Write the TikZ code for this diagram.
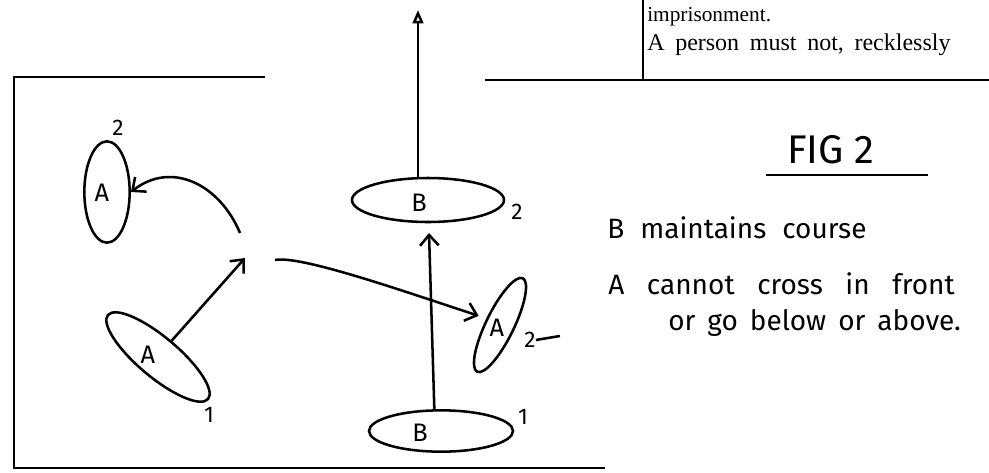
\documentclass[tikz,border=0pt]{standalone}
\usepackage{fontspec}
\setmainfont{Liberation Serif}
\newfontfamily\handfont{Fira Sans}
\usetikzlibrary{shapes.geometric,arrows.meta}

\begin{document}
\begin{tikzpicture}[x=0.75pt, y=-0.75pt,
	boat/.style={ellipse, draw=black, line width=1.9pt, inner sep=0pt},
	boatname/.style={font=\handfont\fontsize{19}{19}\selectfont, inner sep=0pt},
	num/.style={font=\handfont\fontsize{17}{17}\selectfont, inner sep=0pt},
	note/.style={font=\handfont\fontsize{21}{21}\selectfont, anchor=base west, inner sep=0pt},
	printed/.style={font=\fontsize{18}{18}\selectfont, anchor=base west, inner sep=0pt},
	move/.style={line width=1.9pt, -{Straight Barb[length=8pt, width=14pt]}},
	frame/.style={line width=2pt}]

	\fill[white] (0,0) rectangle (989,472);
	\useasboundingbox (0,0) rectangle (989,472);

	% Frame lines
	\draw[frame] (265,77) -- (14,77) -- (14,468) -- (605,468);
	\draw[frame] (485,80) -- (989,80);
	\draw[frame] (643,0) -- (643,80);
	\node[printed, font=\fontsize{16}{16}\selectfont] (prA) at (647,21) {imprisonment.};
	\node[printed] (prB) at (647,50) {\spaceskip=8pt\relax A person must not, recklessly};

	% Boats with their positions
	\node[boat, minimum width=34pt, minimum height=76pt] (A2l) at (107,192) {};
	\node[boat, minimum width=98pt, minimum height=30pt, rotate=-40] (A1) at (158,357) {};
	\node[boat, minimum width=78pt, minimum height=21pt, rotate=64] (A2r) at (500,325) {};
	\node[boat, minimum width=114pt, minimum height=33pt] (B2) at (428,200) {};
	\node[boat, minimum width=108pt, minimum height=31pt] (B1) at (441,431) {};

	\node[boatname] (A2lname) at (102,193) {A};
	\node[boatname] (A1name) at (148,355) {A};
	\node[boatname] (A2rname) at (497,328) {A};
	\node[boatname] (B2name) at (419,203) {B};
	\node[boatname] (B1name) at (420,433) {B};

	% Position numbers
	\node[num] (nA2l) at (118,128) {2};
	\node[num] (nA1) at (209,415) {1};
	\node[num] (nA2r) at (530,340) {2};
	\node[num] (nB2) at (517,212) {2};
	\node[num] (nB1) at (523,417) {1};
	\draw[line width=1.9pt] (nA2r.east) -- ++(24,-4);

	% Courses
	\coordinate (Bahead) at (418,10);
	\coordinate (Btip) at (429,233);
	\coordinate (Aturn) at (245,258);
	\coordinate (Aback) at (240,233);
	\coordinate (Aon) at (275,260);

	\draw[line width=1.9pt, -{Triangle[open, length=10pt, width=8pt]}] (Bahead |- B2.north) -- (Bahead);
	\draw[move] ([xshift=-5pt]B1.north) -- (Btip);
	\draw[move] (A1.north) -- (Aturn);
	\draw[move] (Aback) .. controls (220,185) and (172,160) .. (A2l.east);
	\draw[move, shorten >=6pt] (Aon) .. controls (300,255) and (400,290) .. (A2r.north);

	% Notes
	\node[note, font=\handfont\fontsize{30}{30}\selectfont] (fig) at (787,163) {FIG 2};
	\draw[line width=1.7pt] (766,175) -- (928,175);
	\node[note] (noteB) at (607,238) {\spaceskip=12pt\relax B maintains course};
	\node[note] (noteA) at (608,294) {\spaceskip=17pt\relax A cannot cross in front};
	\node[note] (noteA2) at (668,330) {\spaceskip=9pt\relax or go below or above.};

\end{tikzpicture}
\end{document}
